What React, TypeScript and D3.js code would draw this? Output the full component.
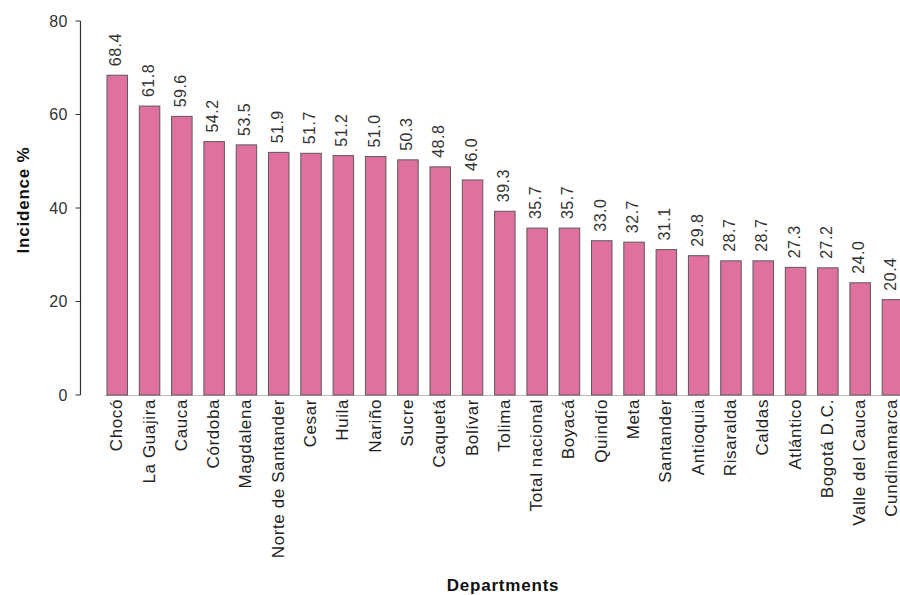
import React from "react";
import * as d3 from "d3";

const departments = [
  "Chocó", "La Guajira", "Cauca", "Córdoba", "Magdalena", "Norte de Santander",
  "Cesar", "Huila", "Nariño", "Sucre", "Caquetá", "Bolívar", "Tolima",
  "Total nacional", "Boyacá", "Quindío", "Meta", "Santander", "Antioquia",
  "Risaralda", "Caldas", "Atlántico", "Bogotá D.C.", "Valle del Cauca", "Cundinamarca",
];
const incidence = [
  68.4, 61.8, 59.6, 54.2, 53.5, 51.9, 51.7, 51.2, 51.0, 50.3, 48.8, 46.0, 39.3,
  35.7, 35.7, 33.0, 32.7, 31.1, 29.8, 28.7, 28.7, 27.3, 27.2, 24.0, 20.4,
];
const yTicks = [0, 20, 40, 60, 80];

const W = 900;
const H = 595;
const FONT = "'Liberation Sans', Arial, sans-serif";

export default function App() {
  const x = d3.scaleBand<string>().domain(departments).range([95.2, 914.5]).padding(0.365);
  const y = d3.scaleLinear().domain([0, 80]).range([395, 21]);
  const axisX = 80.5;

  return (
    <svg width={W} height={H} style={{ position: "absolute", left: 0, top: 0, background: "#fff" }} fontFamily={FONT}>
      {/* baseline */}
      <line x1={x(departments[0])! - 2} x2={W} y1={y(0) + 0.5} y2={y(0) + 0.5} stroke="#bbb" strokeWidth={1} />
      {/* bars */}
      {departments.map((d, i) => (
        <rect
          key={d}
          x={x(d)!}
          y={y(incidence[i])}
          width={x.bandwidth()}
          height={y(0) - y(incidence[i])}
          fill="#e0709e"
          stroke="#5a5a5a"
          strokeWidth={1}
        />
      ))}
      {/* value labels */}
      {departments.map((d, i) => {
        const cx = x(d)! + x.bandwidth() / 2 + 4;
        const cy = y(incidence[i]) - 9;
        return (
          <text
            key={"v" + d}
            transform={`translate(${cx},${cy}) rotate(-90)`}
            fontSize={16}
            letterSpacing={0.5}
            fill="#333"
            textAnchor="start"
          >
            {incidence[i].toFixed(1)}
          </text>
        );
      })}
      {/* category labels */}
      {departments.map((d) => {
        const cx = x(d)! + x.bandwidth() / 2 + 5;
        const cy = 399;
        return (
          <text
            key={"c" + d}
            transform={`translate(${cx},${cy}) rotate(-90)`}
            fontSize={17}
            letterSpacing={0.6}
            fill="#222"
            textAnchor="end"
          >
            {d}
          </text>
        );
      })}
      {/* y axis */}
      <line x1={axisX} x2={axisX} y1={y(80)} y2={y(0)} stroke="#333" strokeWidth={1.2} />
      {yTicks.map((t) => (
        <g key={t}>
          <line x1={axisX - 5} x2={axisX} y1={y(t)} y2={y(t)} stroke="#333" strokeWidth={1} />
          <text x={68} y={y(t)} dy="0.35em" textAnchor="end" fontSize={16} letterSpacing={0.5} fill="#333">
            {t}
          </text>
        </g>
      ))}
      {/* axis titles */}
      <text
        transform={`translate(29,200) rotate(-90)`}
        textAnchor="middle"
        fontSize={17}
        fontWeight="bold"
        letterSpacing={0.8}
        fill="#111"
      >
        Incidence %
      </text>
      <text x={503} y={591} textAnchor="middle" fontSize={17} fontWeight="bold" letterSpacing={0.8} fill="#111">
        Departments
      </text>
    </svg>
  );
}
